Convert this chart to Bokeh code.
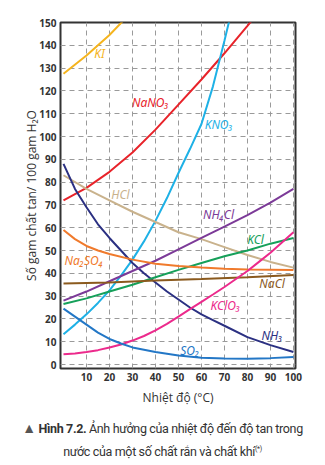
from bokeh.plotting import figure
from bokeh.models import FixedTicker, Range1d, Label, Div
from bokeh.layouts import column
from bokeh.embed import file_html
from bokeh.resources import INLINE

# ---------------- data ----------------
t_ki = [0, 10, 20, 30]
s_ki = [127.5, 135.5, 144.5, 155]

t_nano3 = [0, 10, 20, 30, 40, 50, 60, 70, 80, 90]
s_nano3 = [72, 77.5, 84.5, 93, 103, 114, 125, 136.5, 148.5, 161]

t_kno3 = [0, 5, 10, 15, 20, 25, 30, 35, 40, 45, 50, 55, 60, 65, 70, 75]
s_kno3 = [13.3, 17.5, 22, 27, 32.5, 39, 46, 54, 63, 73, 84, 94.5, 105.5, 122, 142, 163]

t_hcl = [0, 10, 20, 30, 40, 50, 60, 70, 80, 90, 100]
s_hcl = [83, 77, 72, 67, 62.5, 58, 55, 51.5, 48, 45, 42.5]

t_nh3 = [0, 5, 10, 15, 20, 25, 30, 35, 40, 45, 50, 55, 60, 65, 70, 80, 90, 100]
s_nh3 = [88, 77, 69, 61.5, 55.5, 50, 44.5, 40, 36, 32, 28.5, 25, 22, 19.5, 17, 12, 8.5, 5.5]

t_nh4cl = [0, 10, 20, 30, 40, 50, 60, 70, 80, 90, 100]
s_nh4cl = [28, 32, 36.5, 41, 45.5, 50.5, 55.5, 60.5, 65.5, 71, 77]

t_kcl = [0, 10, 20, 30, 40, 50, 60, 70, 80, 90, 100]
s_kcl = [26.5, 29, 32, 35, 38.3, 41.5, 44.5, 47.5, 50, 53, 55.5]

t_na2so4 = [0, 5, 10, 15, 20, 30, 40, 50, 60, 70, 80, 90, 100]
s_na2so4 = [59, 55, 52, 50, 48.5, 46, 44.2, 43.2, 42.5, 42, 41.7, 41.6, 41.5]

t_nacl = [0, 20, 40, 60, 80, 100]
s_nacl = [35.5, 36, 36.8, 37.5, 38.3, 39.3]

t_kclo3 = [0, 5, 10, 15, 20, 25, 30, 35, 40, 45, 50, 55, 60, 65, 70, 75, 80, 85, 90, 95, 100]
s_kclo3 = [4.5, 4.8, 5.5, 6.3, 7.5, 8.8, 10.5, 12.5, 15, 17.8, 21, 24.3, 27.5, 30.7, 34, 37.5,
           41, 45, 49, 53.5, 58]

t_so2 = [0, 5, 10, 15, 20, 25, 30, 40, 50, 60, 70, 80, 90, 100]
s_so2 = [24.5, 21, 17.5, 14, 11.2, 9.2, 7.5, 5.5, 4, 3, 2.6, 2.5, 2.8, 3.3]

x_ticks = [10, 20, 30, 40, 50, 60, 70, 80, 90, 100]
y_ticks = [0, 10, 20, 30, 40, 50, 60, 70, 80, 90, 100, 110, 120, 130, 140, 150]

series = [
    ("KI", t_ki, s_ki, "#F5B41E", 15.7, 136.5),
    ("NaNO₃", t_nano3, s_nano3, "#E8232A", 37.8, 115),
    ("KNO₃", t_kno3, s_kno3, "#1EB1E6", 67.5, 105.3),
    ("HCl", t_hcl, s_hcl, "#C9B28C", 24.8, 74.6),
    ("NH₃", t_nh3, s_nh3, "#2B3082", 90.7, 12.7),
    ("NH₄Cl", t_nh4cl, s_nh4cl, "#7C3A98", 67.4, 66),
    ("KCl", t_kcl, s_kcl, "#16A05A", 83.5, 54.7),
    ("Na₂SO₄", t_na2so4, s_na2so4, "#F07A2C", 8.8, 45.6),
    ("NaCl", t_nacl, s_nacl, "#8B5A1E", 90.7, 35.7),
    ("KClO₃", t_kclo3, s_kclo3, "#EC2A8C", 70.4, 25.9),
    ("SO₂", t_so2, s_so2, "#2377C6", 54.9, 6.1),
]

# ---------------- main chart ----------------
p = figure(width=325, height=410, x_range=Range1d(-1.3, 100.9), y_range=Range1d(-1.75, 150),
           toolbar_location=None, output_backend="svg",
           min_border_left=60, min_border_right=30, min_border_top=22, min_border_bottom=42)
p.background_fill_color = "white"
p.border_fill_color = "white"
p.outline_line_color = "#333333"
p.outline_line_width = 2

p.xaxis.ticker = FixedTicker(ticks=x_ticks)
p.yaxis.ticker = FixedTicker(ticks=y_ticks)
for ax in (p.xaxis, p.yaxis):
    ax.axis_line_color = None
    ax.major_tick_line_color = None
    ax.minor_tick_line_color = None
    ax.major_tick_out = 0
    ax.major_tick_in = 0
    ax.major_label_text_font = "Open Sans"
    ax.major_label_text_font_size = "10px"
    ax.major_label_text_color = "#333333"
    ax.major_label_text_font_style = "bold"
    ax.axis_label_text_font = "Open Sans"
    ax.axis_label_text_font_size = "12px"
    ax.axis_label_text_font_style = "normal"
    ax.axis_label_text_color = "#333333"
p.xaxis.major_label_standoff = 4
p.xaxis.axis_label_standoff = 5
p.yaxis.major_label_standoff = 4
p.yaxis.axis_label_standoff = -4
p.xaxis.axis_label = "Nhiệt độ (°C)"
p.yaxis.axis_label = "Số gam chất tan/ 100 gam H₂O"

for g in (p.xgrid, p.ygrid):
    g.grid_line_color = "#9a9a9a"
    g.grid_line_dash = "5 4"
    g.grid_line_width = 1

for name, t, s, col, lx, ly in series:
    p.line(t, s, line_color=col, line_width=2)
    p.add_layout(Label(x=lx, y=ly, text=name, text_color=col, text_font="Noto Sans",
                       text_font_style="italic", text_font_size="12px",
                       text_align="center", text_baseline="middle"))

# ---------------- caption ----------------
caption_html = (
    '<div style="width:325px; text-align:center; font-family:Roboto, sans-serif; '
    'font-size:12.5px; color:#333; line-height:20px; padding-top:8px; letter-spacing:-0.35px;">'
    '<span style="color:#555; font-size:14px;">▲</span> <b>Hình 7.2.</b> '
    'Ảnh hưởng của nhiệt độ đến độ tan trong<br>'
    'nước của một số chất rắn và chất khí<sup style="font-size:7px;">(*)</sup></div>'
)
c = Div(text=caption_html, width=325, height=55, margin=(0, 0, 0, 0))

layout = column(p, c, spacing=0)
open("out.html", "w").write(file_html(layout, INLINE))
